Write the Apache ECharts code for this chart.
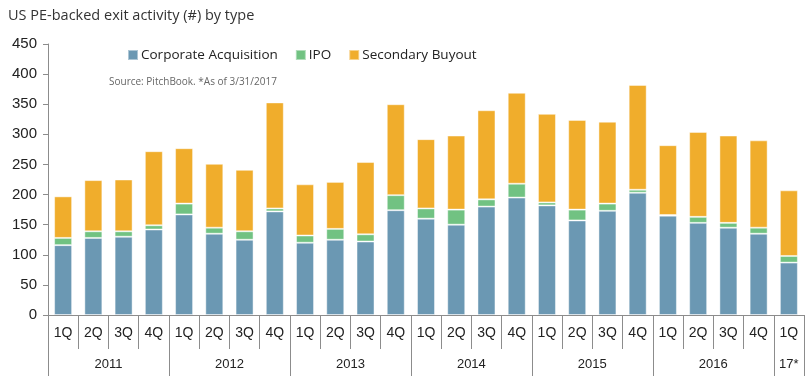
<!DOCTYPE html>
<html><head><meta charset="utf-8">
<script src="https://cdn.jsdelivr.net/npm/echarts@6/dist/echarts.min.js"></script>
<style>html,body{margin:0;padding:0;background:#fff}#c{width:810px;height:386px}</style>
</head><body><div id="c"></div>
<script>
var quarters = ['1Q','2Q','3Q','4Q','1Q','2Q','3Q','4Q','1Q','2Q','3Q','4Q','1Q','2Q','3Q','4Q','1Q','2Q','3Q','4Q','1Q','2Q','3Q','4Q','1Q'];
var years = ['2011','2012','2013','2014','2015','2016','17*'];
var yearQuarterCounts = [4,4,4,4,4,4,1];
var corporate = [116,128,130,142,167,135,125,172,120,125,122,174,160,150,180,195,182,157,173,203,165,153,145,135,87];
var ipo = [12,11,9,7,18,10,14,5,12,18,12,25,17,25,12,23,5,18,12,5,1,10,8,10,11];
var secondary = [69,85,86,123,92,106,102,176,85,78,120,151,115,123,148,151,147,149,136,174,116,141,145,145,109];

// build half-quarter grid for year axis
var totalQ = quarters.length;
var halfCats = [];
for (var i = 0; i <= totalQ * 2; i++) halfCats.push('');
var boundarySet = {0: true};
var labelAt = {};
var acc = 0;
for (var y = 0; y < years.length; y++) {
  var center = (acc * 2 + yearQuarterCounts[y]);
  labelAt[center] = years[y];
  acc += yearQuarterCounts[y];
  boundarySet[acc * 2] = true;
}
for (var k in labelAt) halfCats[k] = labelAt[k];

var chart = echarts.init(document.getElementById('c'), null, {renderer: 'canvas'});
var axisColor = '#8c8c8c';
var txt = '#222';
var barBorder = {borderColor: 'rgba(255,255,255,0.45)', borderWidth: 1};
chart.setOption({
  animation: false,
  title: [
    {text: 'US PE-backed exit activity (#) by type', left: 3, top: 3,
     textStyle: {fontFamily: 'Open Sans', fontSize: 14.5, fontWeight: 'normal', color: '#333'}},
    {text: 'Source: PitchBook. *As of 3/31/2017', left: 104, top: 72,
     textStyle: {fontFamily: 'Open Sans', fontSize: 10, fontWeight: 'normal', color: '#666'}}
  ],
  legend: {
    left: 122, top: 43, itemWidth: 10, itemHeight: 10, itemGap: 17, icon: 'rect',
    textStyle: {fontFamily: 'Open Sans', fontSize: 13.5, color: txt, padding: [0,0,0,-2]},
    data: ['Corporate Acquisition', 'IPO', 'Secondary Buyout']
  },
  grid: {left: 48, right: 6, top: 44, bottom: 71, containLabel: false},
  xAxis: [
    {type: 'category', data: quarters, position: 'bottom',
     axisLine: {lineStyle: {color: axisColor}},
     axisTick: {show: true, length: 34, lineStyle: {color: axisColor}},
     axisLabel: {interval: 0, margin: 11, fontFamily: 'Liberation Sans Narrow, Liberation Sans', fontSize: 14, color: txt}},
    {type: 'category', data: halfCats, position: 'bottom', offset: 34, boundaryGap: false,
     axisLine: {show: false},
     axisTick: {show: true, length: 27, lineStyle: {color: axisColor},
       interval: function (idx) { return !!boundarySet[idx]; }},
     axisLabel: {interval: function (idx, val) { return val !== ''; }, margin: 9,
       fontFamily: 'Liberation Sans Narrow, Liberation Sans', fontSize: 13, color: txt}}
  ],
  yAxis: {type: 'value', min: 0, max: 450, interval: 50,
    axisLine: {show: true, lineStyle: {color: axisColor}},
    axisTick: {show: true, length: 5, lineStyle: {color: axisColor}},
    splitLine: {show: false},
    axisLabel: {margin: 11, fontFamily: 'Liberation Sans', fontSize: 15, color: txt}},
  series: [
    {name: 'Corporate Acquisition', type: 'bar', stack: 'a', data: corporate, barWidth: 18,
     itemStyle: Object.assign({color: '#6b98b3'}, barBorder)},
    {name: 'IPO', type: 'bar', stack: 'a', data: ipo,
     itemStyle: Object.assign({color: '#71c282'}, barBorder)},
    {name: 'Secondary Buyout', type: 'bar', stack: 'a', data: secondary,
     itemStyle: Object.assign({color: '#f0ad2c'}, barBorder)}
  ]
});
</script></body></html>
